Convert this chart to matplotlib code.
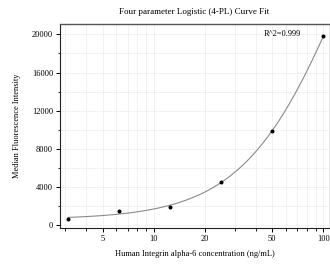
import numpy as np
import matplotlib
matplotlib.use("Agg")
import matplotlib.pyplot as plt
from matplotlib.ticker import FixedLocator, NullFormatter, MultipleLocator

# measured standards
conc = [3.125, 6.25, 12.5, 25, 50, 100]
mfi = [590, 1460, 1910, 4520, 9900, 19800]

# 4PL fit parameters (bottom, slope, ec50, top)
fit_a, fit_b, fit_c, fit_d = 600, 1.45, 136.7, 50000
r2_text = "R^2=0.999"

xticks = [5, 10, 20, 50, 100]
yticks = [0, 4000, 8000, 12000, 16000, 20000]

plt.rcParams['font.family'] = ['Liberation Serif', 'DejaVu Serif']

fig = plt.figure(figsize=(3.3, 2.66), dpi=100)
ax = fig.add_axes([0.182, 0.143, 0.815, 0.767])

xs = np.logspace(np.log10(conc[0]), np.log10(conc[-1]), 200)
ys = fit_d + (fit_a - fit_d) / (1 + (xs / fit_c) ** fit_b)
ax.plot(xs, ys, color='#8a8a8a', lw=0.8, zorder=2)
ax.scatter(conc, mfi, s=3.5, color='black', zorder=3)

ax.set_xscale('log')
ax.set_xlim(2.8, 108)
ax.set_ylim(-300, 21100)
ax.xaxis.set_major_locator(FixedLocator(xticks))
ax.xaxis.set_minor_locator(FixedLocator([3, 4, 6, 7, 8, 9, 30, 40, 60, 70, 80, 90]))
ax.xaxis.set_minor_formatter(NullFormatter())
ax.set_xticklabels([str(t) for t in xticks])
ax.set_yticks(yticks)
ax.yaxis.set_minor_locator(MultipleLocator(2000))

ax.grid(True, which='both', color='#ebebeb', lw=0.5, zorder=0)
ax.set_axisbelow(True)
ax.tick_params(which='major', direction='out', length=3, width=0.7, labelsize=6, pad=2)
ax.tick_params(which='minor', direction='out', length=1.8, width=0.6)

for side in ['left', 'bottom']:
    ax.spines[side].set_linewidth(0.8)
    ax.spines[side].set_color('#222222')
ax.spines['top'].set_color('#555555')
ax.spines['top'].set_linewidth(1.0)
ax.spines['right'].set_color('#dddddd')
ax.spines['right'].set_linewidth(0.5)

ax.set_title("Four parameter Logistic (4-PL) Curve Fit", fontsize=6.5, pad=7)
ax.set_xlabel("Human Integrin alpha-6 concentration (ng/mL)", fontsize=6, labelpad=5)
ax.set_ylabel("Median Fluorescence Intensity", fontsize=6, labelpad=8)
ax.text(0.758, 0.95, r2_text, transform=ax.transAxes, fontsize=6, va='center')

fig.savefig("out.png", dpi=100)
